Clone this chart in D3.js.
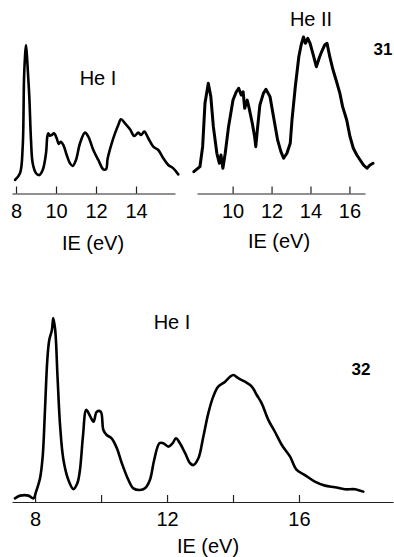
<!DOCTYPE html>
<html>
<head>
<meta charset="utf-8">
<script src="https://cdn.jsdelivr.net/npm/d3@7"></script>
<style>
  body { margin: 0; background: #fff; }
  text { font-family: "Liberation Sans", Arial, sans-serif; fill: #000; }
</style>
</head>
<body>
<div class="canvas"></div>
<script>
// spectrum 31, He I  [IE (eV), relative intensity]
const heI31 = [
  [7.95, 3.6], [8.2, 8.4], [8.335, 27.4], [8.4, 75], [8.45, 91.6], [8.5, 100],
  [8.565, 88.1], [8.665, 63.1], [8.75, 32.1], [8.835, 15.5], [9.0, 8.4], [9.165, 7.1],
  [9.335, 10.7], [9.5, 22.6], [9.565, 34.5], [9.615, 36.9], [9.7, 35.2], [9.785, 35.7],
  [9.9, 36.9], [10.035, 33.4], [10.135, 29.3], [10.235, 30.9], [10.365, 28.6],
  [10.535, 21.4], [10.7, 15.5], [10.835, 13.6], [11.0, 17.9], [11.2, 29.8], [11.45, 37.4],
  [11.615, 34.5], [11.865, 25], [12.115, 17.9], [12.365, 11.2], [12.5, 11.2], [12.585, 19.1],
  [12.785, 29.8], [12.95, 36.9], [13.115, 42.9], [13.25, 46.9], [13.45, 44.1], [13.7, 39.8],
  [13.915, 35], [14.115, 37.4], [14.25, 35.7], [14.415, 38.1], [14.615, 33.4],
  [14.865, 27.4], [15.115, 25], [15.365, 19.1], [15.615, 14.3], [15.865, 11.9], [16.115, 7.6]
];

// spectrum 31, He II
const heII31 = [
  [8.01, 5.8], [8.32, 9.3], [8.46, 23.3], [8.58, 53.6], [8.75, 67.6], [8.88, 58.3],
  [9.01, 37.3], [9.19, 18.7], [9.32, 11.7], [9.40, 17.5], [9.50, 8.2], [9.62, 18.7],
  [9.79, 37.3], [10.02, 55.9], [10.19, 61.7], [10.31, 64.1], [10.44, 59.4], [10.54, 61.7],
  [10.62, 50.1], [10.75, 55.9], [10.83, 51.3], [11.01, 39.7], [11.13, 30.3], [11.19, 23.3],
  [11.27, 35], [11.40, 52.4], [11.58, 60.6], [11.71, 63.4], [11.92, 58.3], [12.13, 42],
  [12.31, 28], [12.48, 19.8], [12.62, 15.2], [12.79, 18.7], [12.96, 25.7], [13.05, 42],
  [13.22, 65.2], [13.40, 86.2], [13.52, 94.4], [13.64, 100], [13.74, 95.6], [13.86, 99.1],
  [13.98, 95.6], [14.12, 88.6], [14.30, 79.2], [14.47, 86.2], [14.61, 90.9], [14.73, 94.4],
  [14.85, 95.6], [14.99, 86.2], [15.16, 76.9], [15.34, 68.7], [15.51, 60.6], [15.65, 51.3],
  [15.86, 42], [16.03, 30.3], [16.20, 22.2], [16.38, 17.5], [16.55, 14], [16.72, 10.5],
  [16.90, 8.2], [17.06, 10.5], [17.21, 11.7]
];

// spectrum 32, He I
const heI32 = [
  [7.39, 0.9], [7.55, 2.4], [7.80, 2.4], [7.95, 0.9], [8.03, 4.6], [8.15, 11.9],
  [8.23, 23.8], [8.30, 49.5], [8.37, 76.9], [8.43, 87.9], [8.51, 93.4], [8.55, 100],
  [8.61, 93.4], [8.68, 67.7], [8.76, 40.3], [8.86, 22], [9.01, 11], [9.16, 6],
  [9.28, 9.2], [9.36, 16.5], [9.45, 34.8], [9.55, 49.5], [9.65, 46.7], [9.77, 43],
  [9.87, 48.5], [9.99, 48.5], [10.07, 38.5], [10.17, 35.7], [10.32, 33.9], [10.48, 28.4],
  [10.63, 20.2], [10.83, 11], [10.98, 6.4], [11.18, 5.5], [11.33, 6.4], [11.48, 11],
  [11.61, 22], [11.77, 31.2], [11.89, 31.2], [12.04, 29.3], [12.17, 31.2], [12.27, 33.9],
  [12.39, 31.2], [12.55, 25.7], [12.70, 20.2], [12.80, 19.2], [12.95, 22.9], [13.10, 34.8],
  [13.25, 47.6], [13.40, 56.8], [13.55, 62.3], [13.76, 65], [13.91, 67.7], [14.01, 68.7],
  [14.16, 66.9], [14.36, 65], [14.57, 62.3], [14.72, 57.7], [14.87, 53.1], [15.07, 44],
  [15.27, 37.5], [15.48, 30.2], [15.73, 23.8], [15.93, 16.5], [16.18, 13.7], [16.48, 10.1],
  [16.79, 7.9], [17.09, 7], [17.39, 5.9], [17.70, 5.9], [17.95, 4.6]
];

const ticks31a = [8, 10, 12, 14];
const ticks31b = [10, 12, 14, 16];
const ticks32 = [8, 10, 12, 14, 16];
const labels32 = [8, 12, 16];

const svg = d3.select('.canvas')
  .append('svg')
  .attr('width', 394)
  .attr('height', 557);

const panel = (data, xDomain, xRange, yRange, axisY, tickVals, tickLabels, width, curve) => {
  const x = d3.scaleLinear().domain(xDomain).range(xRange);
  const y = d3.scaleLinear().domain([0, 100]).range(yRange);

  const axis = d3.axisBottom(x)
    .tickValues(tickVals)
    .tickFormat(d => tickLabels.includes(d) ? d : '')
    .tickSizeInner(-7)
    .tickSizeOuter(0)
    .tickPadding(10);

  const g = svg.append('g')
    .attr('transform', `translate(0,${axisY})`)
    .call(axis);
  g.select('.domain').attr('stroke', '#222').attr('stroke-width', 1.2);
  g.selectAll('.tick line').attr('stroke', '#222').attr('stroke-width', 1.2);
  g.selectAll('.tick text')
    .attr('font-size', 20)
    .attr('fill', '#000')
    .style('font-family', '"Liberation Sans", Arial, sans-serif');

  const line = d3.line()
    .x(d => x(d[0]))
    .y(d => y(d[1]))
    .curve(curve);

  svg.append('path')
    .datum(data)
    .attr('d', line)
    .attr('fill', 'none')
    .attr('stroke', '#000')
    .attr('stroke-width', width)
    .attr('stroke-linejoin', 'round')
    .attr('stroke-linecap', 'round');
};

panel(heI31, [7.8, 15.95], [12, 175], [185, 45], 193.5, ticks31a, ticks31a, 2.6, d3.curveCatmullRom);
panel(heII31, [8.17, 16.8], [197, 365], [180, 37], 193.5, ticks31b, ticks31b, 3, d3.curveLinear);
panel(heI32, [7.3, 18.85], [12, 393], [500, 318], 502, ticks32, labels32, 2.6, d3.curveCatmullRom);

const label = (txt, x, y, size, weight) => {
  svg.append('text')
    .attr('x', x)
    .attr('y', y)
    .attr('text-anchor', 'middle')
    .attr('font-size', size)
    .attr('font-weight', weight || 'normal')
    .text(txt);
};

label('He I', 98, 85, 20);
label('He II', 311, 26, 20);
label('31', 383, 55, 17, 'bold');
label('He I', 172, 329, 20);
label('32', 361, 375, 17, 'bold');
label('IE (eV)', 93, 250, 20);
label('IE (eV)', 279, 248, 20);
label('IE (eV)', 208, 553, 20);
</script>
</body>
</html>
